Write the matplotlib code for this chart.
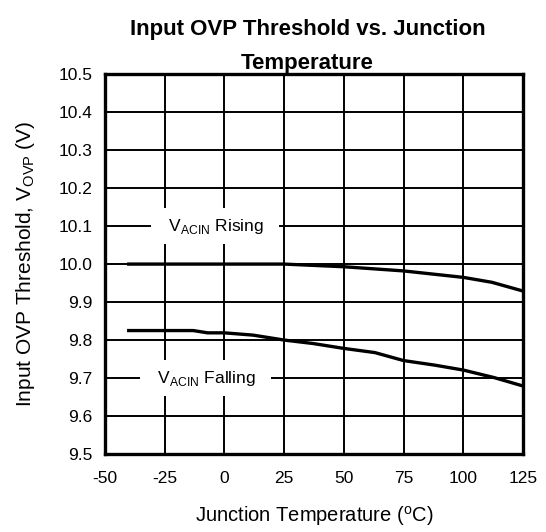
import matplotlib
matplotlib.use("Agg")
import matplotlib.pyplot as plt

plt.rcParams["font.family"] = ["Liberation Sans", "DejaVu Sans"]
plt.rcParams["mathtext.fontset"] = "custom"
plt.rcParams["mathtext.rm"] = "Liberation Sans"

temp_rising = [-40, -25, 0, 25, 50, 75, 100, 112, 125]
v_rising = [10.0, 10.0, 10.0, 10.0, 9.993, 9.982, 9.965, 9.952, 9.929]

temp_falling = [-40, -13, -7, 0, 12, 25, 37, 50, 63, 75, 88, 100, 113, 125]
v_falling = [9.825, 9.825, 9.819, 9.819, 9.813, 9.800, 9.791, 9.778, 9.767,
             9.746, 9.734, 9.721, 9.701, 9.679]

x_ticks = [-50, -25, 0, 25, 50, 75, 100, 125]
y_ticks = [9.5, 9.6, 9.7, 9.8, 9.9, 10.0, 10.1, 10.2, 10.3, 10.4, 10.5]

fig = plt.figure(figsize=(5.46, 5.32), dpi=100)
ax = fig.add_axes([0.192, 0.1466, 0.766, 0.714])

ax.plot(temp_rising, v_rising, color="black", linewidth=2.4, zorder=3)
ax.plot(temp_falling, v_falling, color="black", linewidth=2.4, zorder=3)

ax.set_xlim(-50, 125)
ax.set_ylim(9.5, 10.5)
ax.set_xticks(x_ticks)
ax.set_xticklabels([str(t) for t in x_ticks])
ax.set_yticks(y_ticks)
ax.set_yticklabels([f"{v:.1f}" for v in y_ticks])
ax.tick_params(length=0, labelsize=12.5)
ax.tick_params(axis="x", pad=12)
ax.tick_params(axis="y", pad=9)
ax.grid(True, color="black", linewidth=1.4)
ax.set_axisbelow(True)
for spine in ax.spines.values():
    spine.set_linewidth(2.4)

box = dict(facecolor="white", edgecolor="none", boxstyle="square,pad=0.5")
ax.text(-4, 10.1, r"  V$_{\mathregular{ACIN}}$ Rising  ", ha="center", va="center",
        fontsize=12.5, bbox=box, zorder=4)
ax.text(-8, 9.7, r"  V$_{\mathregular{ACIN}}$ Falling  ", ha="center", va="center",
        fontsize=12.5, bbox=box, zorder=4)

ax.set_title("Input OVP Threshold vs. Junction\nTemperature", fontsize=16,
             fontweight="bold", linespacing=1.8, pad=2, x=0.485)
ax.set_xlabel(r"Junction Temperature ($^{\mathregular{o}}$C)", fontsize=14.5, labelpad=13)
ax.set_ylabel(r"Input OVP Threshold, V$_{\mathregular{OVP}}$ (V)", fontsize=15, labelpad=15)

fig.savefig("out.png", dpi=100)
